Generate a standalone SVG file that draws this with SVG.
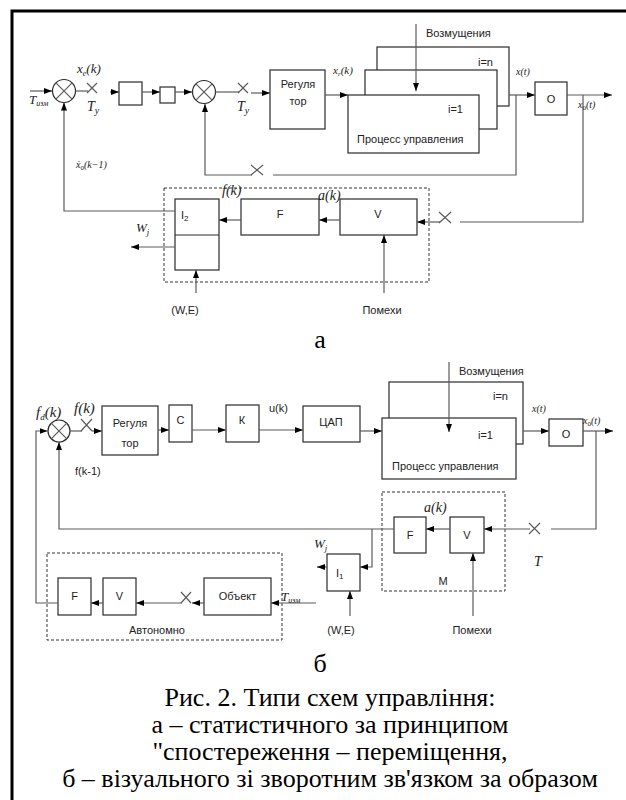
<svg xmlns="http://www.w3.org/2000/svg" width="626" height="800" viewBox="0 0 626 800">
<style>
.bx{fill:#fff;stroke:#2a2a2a;stroke-width:1.2}
.ln{fill:none;stroke:#5a5a5a;stroke-width:1.2}
.ar{fill:none;stroke:#5a5a5a;stroke-width:1.2;marker-end:url(#ah)}
.dsh{fill:none;stroke:#333;stroke-width:1;stroke-dasharray:3 2}
.t{font-family:"Liberation Sans",Arial,sans-serif;font-size:11px;fill:#222}
.tc{font-family:"Liberation Sans",Arial,sans-serif;font-size:11px;fill:#222;text-anchor:middle}
.m{font-family:"Liberation Serif","Times New Roman",serif;font-style:italic;fill:#222}
.cap{font-family:"Liberation Serif","Times New Roman",serif;font-size:26px;fill:#000;text-anchor:middle}
</style>
<defs>
<marker id="ah" viewBox="0 0 8 6" refX="8" refY="3" markerWidth="8" markerHeight="6" markerUnits="userSpaceOnUse" orient="auto">
<path d="M0,0 L8,3 L0,6 z" fill="#000"/>
</marker>
</defs>
<rect width="626" height="800" fill="#fff"/>
<path d="M12,800 V11 H626" fill="none" stroke="#000" stroke-width="3"/>

<!-- TOP DIAGRAM NODES -->
<g id="sum1"><circle cx="64" cy="91" r="11.5" class="bx"/><path d="M55.9,82.9 L72.1,99.1 M72.1,82.9 L55.9,99.1" class="ln" stroke="#2a2a2a"/></g>
<g id="box1"><rect x="119" y="82" width="23" height="23" class="bx"/></g>
<g id="box2"><rect x="160" y="87" width="15" height="16" class="bx"/></g>
<g id="sum2"><circle cx="204" cy="92" r="11.5" class="bx"/><path d="M195.9,83.9 L212.1,100.1 M212.1,83.9 L195.9,100.1" class="ln" stroke="#2a2a2a"/></g>
<g id="reg1"><rect x="270" y="70" width="55" height="59" class="bx"/><text x="298" y="88" class="tc">Регуля</text><text x="298" y="105" class="tc">тор</text></g>
<g id="proc1">
<rect x="377" y="47" width="132" height="59" class="bx"/>
<text x="478" y="66" class="t">i=n</text>
<rect x="365" y="70" width="132" height="59" class="bx"/>
<rect x="348" y="95" width="131" height="58" class="bx"/>
<text x="448" y="113" class="t">i=1</text>
<text x="357" y="143" class="t">Процесс управления</text>
</g>
<g id="o1"><rect x="535" y="82" width="32" height="33" class="bx"/><text x="551" y="103" class="tc" font-size="12">О</text></g>
<g id="m1">
<rect x="164" y="188" width="265" height="94" class="dsh"/>
<g id="i2"><rect x="175" y="199" width="44" height="71" class="bx"/><line x1="175" y1="235" x2="219" y2="235" stroke="#2a2a2a" stroke-width="1.2"/><text x="181" y="219" class="t">I<tspan font-size="8" dy="2">2</tspan></text></g>
<g id="f1"><rect x="241" y="199" width="78" height="36" class="bx"/><text x="280" y="218" class="tc">F</text></g>
<g id="v1"><rect x="340" y="199" width="77" height="36" class="bx"/><text x="378" y="218" class="tc">V</text></g>
</g>

<!-- BOTTOM DIAGRAM NODES -->
<g id="sum3"><circle cx="59" cy="431" r="11" class="bx"/><path d="M51.2,423.2 L66.8,438.8 M66.8,423.2 L51.2,438.8" class="ln" stroke="#2a2a2a"/></g>
<g id="reg2"><rect x="102" y="406" width="56" height="49" class="bx"/><text x="130" y="427" class="tc">Регуля</text><text x="130" y="447" class="tc">тор</text></g>
<g id="c"><rect x="169" y="405" width="23" height="37" class="bx"/><text x="180.5" y="424" class="tc" font-size="12">С</text></g>
<g id="k"><rect x="226" y="405" width="33" height="37" class="bx"/><text x="242" y="424" class="tc" font-size="12">К</text></g>
<g id="dac"><rect x="303" y="406" width="57" height="36" class="bx"/><text x="331" y="426" class="tc">ЦАП</text></g>
<g id="proc2">
<rect x="389" y="382" width="134" height="62" class="bx"/>
<text x="493" y="400" class="t">i=n</text>
<rect x="382" y="418" width="134" height="61" class="bx"/>
<text x="478" y="439" class="t">i=1</text>
<text x="392" y="470" class="t">Процесс управления</text>
</g>
<g id="o2"><rect x="549" y="419" width="34" height="27" class="bx"/><text x="566" y="438" class="tc" font-size="12">О</text></g>
<g id="mbox">
<rect x="382" y="492" width="123" height="99" class="dsh"/>
<text x="443" y="585" class="tc">М</text>
<g id="f2"><rect x="394" y="517" width="32" height="36" class="bx"/><text x="410" y="539" class="tc">F</text></g>
<g id="v2"><rect x="450" y="517" width="34" height="36" class="bx"/><text x="467" y="539" class="tc">V</text></g>
</g>
<g id="i1"><rect x="327" y="554" width="33" height="37" class="bx"/><text x="336" y="577" class="t">I<tspan font-size="8" dy="2">1</tspan></text></g>
<g id="auto">
<rect x="47" y="553" width="235" height="87" class="dsh"/>
<text x="157" y="634" class="tc">Автономно</text>
<g id="f3"><rect x="58" y="578" width="33" height="37" class="bx"/><text x="74.5" y="600" class="tc">F</text></g>
<g id="v3"><rect x="103" y="578" width="33" height="37" class="bx"/><text x="119.5" y="600" class="tc">V</text></g>
<g id="obj"><rect x="204" y="578" width="67" height="37" class="bx"/><text x="237.5" y="600" class="tc">Объект</text></g>
</g>

<!-- CONNECTORS -->
<g id="connectors">
<path d="M30,91 H52" class="ar"/>
<path d="M75.5,91 H88" class="ln"/>
<path d="M87,83 L97,93 M87,93 L97,83" class="ln"/>
<path d="M110,92 H119" class="ar"/>
<path d="M142,92 H160" class="ar"/>
<path d="M175,92 H192" class="ar"/>
<path d="M215.5,92 H239" class="ln"/>
<path d="M238,83 L248,93 M238,93 L248,83" class="ln"/>
<path d="M251,93 H270" class="ar"/>
<path d="M325,95 H348" class="ar"/>
<path d="M416,24 V91" class="ar"/>
<path d="M509,95 H535" class="ar"/>
<path d="M567,95 H612" class="ar"/>
<path d="M516,95 V175 H273" class="ln"/>
<path d="M251,165 L263,175 M251,175 L263,165" class="ln"/>
<path d="M252,175 H205 V104" class="ar"/>
<path d="M583,95 V222 H460" class="ln"/>
<path d="M439,212 L451,223 M439,223 L451,212" class="ln"/>
<path d="M440,222 H417" class="ar"/>
<path d="M340,220 H319" class="ar"/>
<path d="M241,220 H219" class="ar"/>
<path d="M175,211 H64 V102.5" class="ar"/>
<path d="M175,247 H131" class="ar"/>
<path d="M196,293 V270" class="ar"/>
<path d="M384,293 V235" class="ar"/>

<path d="M70,431 H82" class="ln"/>
<path d="M81,419 L92,431 M81,431 L92,419" class="ln"/>
<path d="M92,431 H102" class="ar"/>
<path d="M158,430 H169" class="ar"/>
<path d="M192,430 H226" class="ar"/>
<path d="M259,430 H303" class="ar"/>
<path d="M360,431 H382" class="ar"/>
<path d="M449,362 V432" class="ar"/>
<path d="M523,431 H549" class="ar"/>
<path d="M583,431 H613" class="ar"/>
<path d="M596,431 V529 H551" class="ln"/>
<path d="M529,523 L540,534 M529,534 L540,523" class="ln"/>
<path d="M530,529 H484" class="ar"/>
<path d="M450,529 H426" class="ar"/>
<path d="M394,529 H59 V442" class="ar"/>
<path d="M372,529 V567 H360" class="ar"/>
<path d="M327,567 H317" class="ar"/>
<path d="M350,616 V591" class="ar"/>
<path d="M473,616 V553" class="ar"/>
<path d="M316,603 H271" class="ar"/>
<path d="M204,603 H192" class="ar"/>
<path d="M181,592 L191,603 M181,603 L191,592" class="ln"/>
<path d="M182,603 H136" class="ar"/>
<path d="M103,603 H91" class="ar"/>
<path d="M58,603 H36 V431 H47.5" class="ar"/>
</g>

<!-- LABELS -->
<g id="labels">
<text x="29" y="104" class="m" font-size="13">T<tspan font-size="8" dy="2">изм</tspan></text>
<text x="77" y="73" class="m" font-size="13">x<tspan font-size="8" dy="3">e</tspan><tspan dy="-3">(k)</tspan></text>
<text x="87" y="111" class="m" font-size="14">T<tspan font-size="10" dy="3">y</tspan></text>
<text x="237" y="111" class="m" font-size="14">T<tspan font-size="10" dy="3">y</tspan></text>
<text x="333" y="74" class="m" font-size="11">x<tspan font-size="7" dy="2">r</tspan><tspan dy="-2">(k)</tspan></text>
<text x="426" y="37" class="t" font-size="12.5">Возмущения</text>
<text x="516" y="75" class="m" font-size="10">x(t)</text>
<text x="578" y="108" class="m" font-size="10">x<tspan font-size="7" dy="2" font-style="normal">0</tspan><tspan dy="-2">(t)</tspan></text>
<text x="76" y="168" class="m" font-size="10">ẋ<tspan font-size="7" dy="2" font-style="normal">0</tspan><tspan dy="-2">(k−1)</tspan></text>
<text x="222" y="195" class="m" font-size="14">f(k)</text>
<text x="318" y="200" class="m" font-size="14">a(k)</text>
<text x="136" y="232" class="m" font-size="13">W<tspan font-size="9" dy="3">j</tspan></text>
<text x="185" y="314" class="tc">(W,E)</text>
<text x="382" y="314" class="tc">Помехи</text>
<text x="320" y="348" class="cap" font-size="23">а</text>

<text x="36" y="417" class="m" font-size="15">f<tspan font-size="9" dy="3">d</tspan><tspan dy="-3">(k)</tspan></text>
<text x="74" y="413" class="m" font-size="15">f(k)</text>
<text x="269" y="412" class="t" font-size="12">u(k)</text>
<text x="75" y="475" class="t" font-size="12">f(k-1)</text>
<text x="459" y="375" class="t" font-size="12.5">Возмущения</text>
<text x="532" y="412" class="m" font-size="10">x(t)</text>
<text x="583" y="424" class="m" font-size="10">x<tspan font-size="7" dy="2" font-style="normal">0</tspan><tspan dy="-2">(t)</tspan></text>
<text x="424" y="512" class="m" font-size="14">a(k)</text>
<text x="534" y="566" class="m" font-size="14">T</text>
<text x="314" y="548" class="m" font-size="13">W<tspan font-size="9" dy="3">j</tspan></text>
<text x="281" y="601" class="m" font-size="13">T<tspan font-size="8" dy="2">изм</tspan></text>
<text x="341" y="634" class="tc">(W,E)</text>
<text x="472" y="634" class="tc">Помехи</text>

<text x="320" y="672" class="cap" font-size="24">б</text>
<text x="330" y="706" class="cap">Рис. 2. Типи схем управління:</text>
<text x="330" y="733" class="cap">а – статистичного за принципом</text>
<text x="330" y="760" class="cap">"спостереження – переміщення,</text>
<text x="330" y="787" class="cap">б – візуального зі зворотним зв'язком за образом</text>
</g>
</svg>
